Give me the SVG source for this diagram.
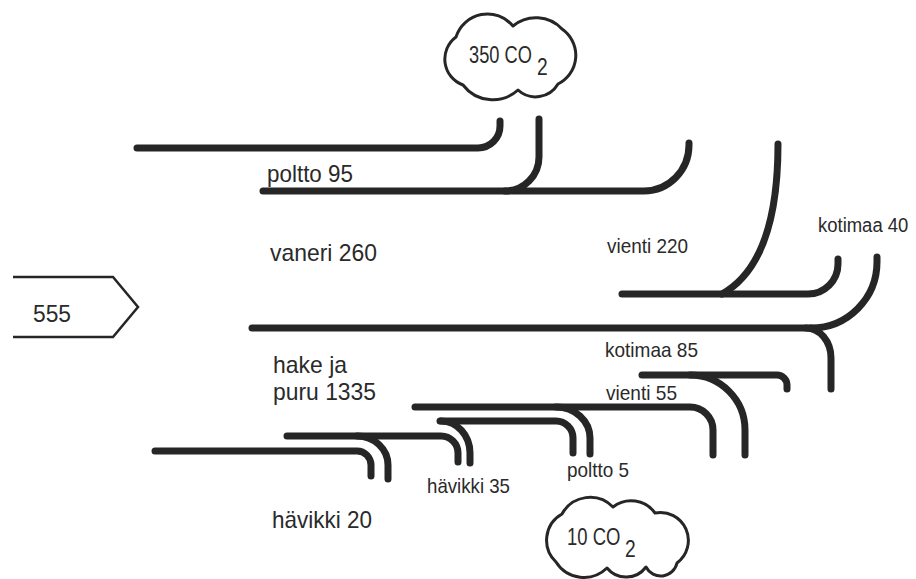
<svg xmlns="http://www.w3.org/2000/svg" width="916" height="579" viewBox="0 0 916 579">
  <style>
    .flow { fill: none; stroke: #262626; stroke-width: 7; stroke-linecap: round; stroke-linejoin: round; }
    .outline { fill: #ffffff; stroke: #262626; stroke-width: 3; stroke-linejoin: round; }
    .src { fill: none; stroke: #262626; stroke-width: 2.5; stroke-linejoin: miter; }
    text { font-family: "Liberation Sans", Arial, Helvetica, sans-serif; fill: #2a2a2a; }
    .big { font-size: 24px; }
    .small { font-size: 21px; }
    .co2 { font-size: 24px; }
  </style>
  <rect width="916" height="579" fill="#ffffff"/>

  <!-- flow lines -->
  <g id="flows">
    <path class="flow" d="M137,148 H478 A22,22 0 0 0 500,126 V121"/>
    <path class="flow" d="M263,191 H644 A45,46 0 0 0 689,145 V143"/>
    <path class="flow" d="M539,119 V157 A34,34 0 0 1 505,191"/>
    <path class="flow" d="M622,294 H808 A30,30 0 0 0 838,264 V259"/>
    <path class="flow" d="M778,144 C778,210 765,270 722,294"/>
    <path class="flow" d="M252,328 H811"/>
    <path class="flow" d="M811,328 A66,66 0 0 0 877,262 V257"/>
    <path class="flow" d="M806,328 A25,30 0 0 1 831,358 V389"/>
    <path class="flow" d="M642,375 H777 A10,10 0 0 1 787,385 V389"/>
    <path class="flow" d="M690,375 A55,55 0 0 1 745,430 V455"/>
    <path class="flow" d="M415,407 H690 A23,23 0 0 1 713,430 V455"/>
    <path class="flow" d="M556,407 A34,31 0 0 1 590,438 V454"/>
    <path class="flow" d="M440,421 H556 A17,17 0 0 1 573,438 V453"/>
    <path class="flow" d="M441,421 A29,32 0 0 1 470,453 V463"/>
    <path class="flow" d="M287,436 H441 A17,17 0 0 1 458,453 V462"/>
    <path class="flow" d="M357,436 A31,29 0 0 1 388,465 V479"/>
    <path class="flow" d="M155,451 H357 A14,14 0 0 1 371,465 V476"/>
  </g>

  <!-- source -->
  <g id="source">
    <polyline class="src" points="13,277 113,277 138,307 113,337 13,337"/>
    <text class="big" x="33" y="322" textLength="38" lengthAdjust="spacingAndGlyphs">555</text>
  </g>

  <!-- emissions clouds -->
  <g id="cloud-top">
    <path class="outline" d="M463,85 A27.5,27.5 0 0 1 456,37 A33,33 0 0 1 513,26 A36,36 0 0 1 562,29 A32,32 0 0 1 558,84 A26,26 0 0 1 518,90 A37.5,37.5 0 0 1 463,85 Z"/>
    <text class="co2" transform="translate(469,63) scale(0.76,1)">350 CO</text>
    <text class="co2" transform="translate(537,75) scale(0.8,1)">2</text>
  </g>
  <g id="cloud-bottom">
    <path class="outline" d="M556,562 A30,30 0 0 1 562,514 A32,32 0 0 1 613,507 A29.5,29.5 0 0 1 655,513 A28,28 0 0 1 677,563 A16.6,16.6 0 0 1 646,567 A24.7,24.7 0 0 1 607,568 A33,33 0 0 1 556,562 Z"/>
    <text class="co2" transform="translate(567,545) scale(0.77,1)">10 CO</text>
    <text class="co2" transform="translate(625,557) scale(0.8,1)">2</text>
  </g>

  <!-- labels -->
  <g id="labels">
    <text class="big" x="267" y="182" textLength="86" lengthAdjust="spacingAndGlyphs">poltto 95</text>
    <text class="big" x="270" y="261" textLength="107" lengthAdjust="spacingAndGlyphs">vaneri 260</text>
    <text class="big" x="273" y="373" textLength="74" lengthAdjust="spacingAndGlyphs">hake ja</text>
    <text class="big" x="273" y="400" textLength="103" lengthAdjust="spacingAndGlyphs">puru 1335</text>
    <text class="big" x="272" y="528" textLength="100" lengthAdjust="spacingAndGlyphs">hävikki 20</text>
    <text class="small" x="607" y="253" textLength="81" lengthAdjust="spacingAndGlyphs">vienti 220</text>
    <text class="small" transform="translate(818,232) scale(0.88,1)">kotimaa 40</text>
    <text class="small" x="605" y="357" textLength="93" lengthAdjust="spacingAndGlyphs">kotimaa 85</text>
    <text class="small" x="606" y="400" textLength="71" lengthAdjust="spacingAndGlyphs">vienti 55</text>
    <text class="small" x="567" y="477" textLength="62" lengthAdjust="spacingAndGlyphs">poltto 5</text>
    <text class="small" x="427" y="493" textLength="83" lengthAdjust="spacingAndGlyphs">hävikki 35</text>
  </g>
</svg>
